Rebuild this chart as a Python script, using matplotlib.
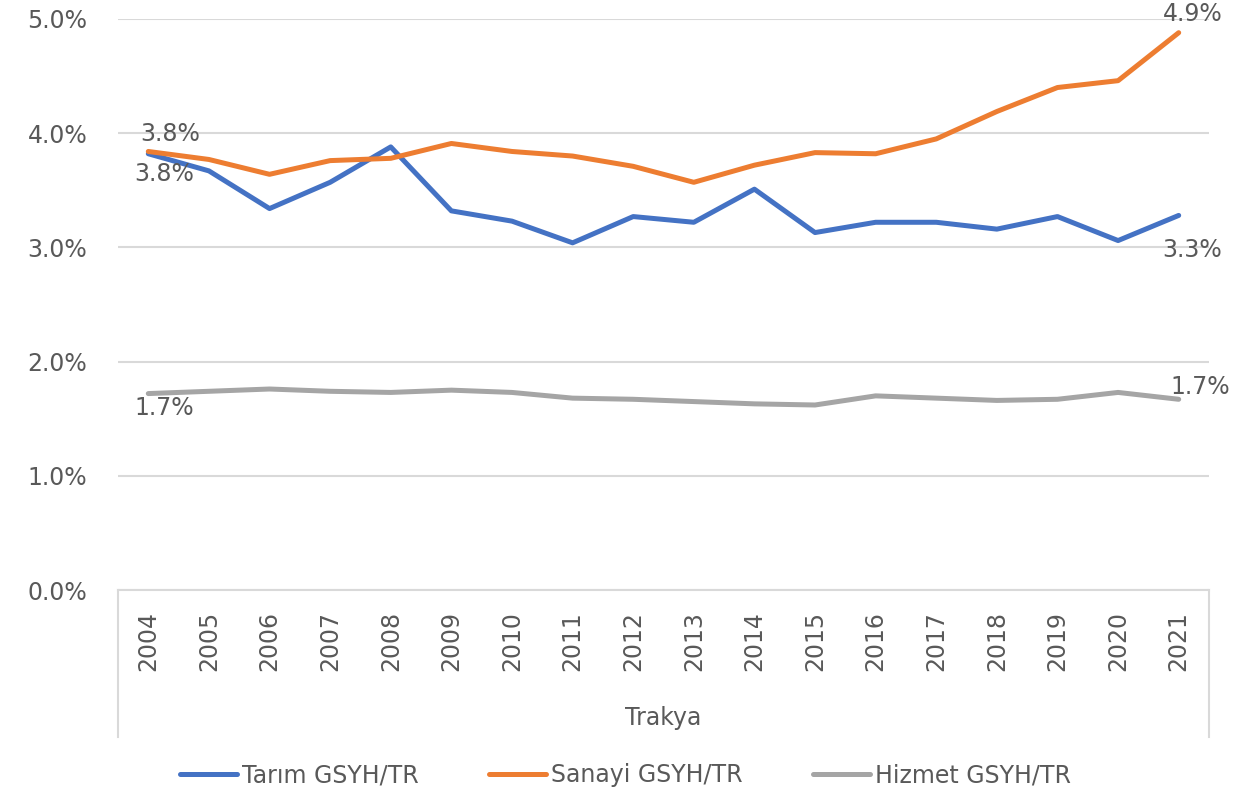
import numpy as np
import matplotlib.pyplot as plt

plt.rcParams['font.family'] = ['DejaVu Sans']

years = ['2004', '2005', '2006', '2007', '2008', '2009', '2010', '2011', '2012',
         '2013', '2014', '2015', '2016', '2017', '2018', '2019', '2020', '2021']
tarim = [3.82, 3.67, 3.34, 3.57, 3.88, 3.32, 3.23, 3.04, 3.27,
         3.22, 3.51, 3.13, 3.22, 3.22, 3.16, 3.27, 3.06, 3.28]
sanayi = [3.84, 3.77, 3.64, 3.76, 3.78, 3.91, 3.84, 3.80, 3.71,
          3.57, 3.72, 3.83, 3.82, 3.95, 4.19, 4.40, 4.46, 4.88]
hizmet = [1.72, 1.74, 1.76, 1.74, 1.73, 1.75, 1.73, 1.68, 1.67,
          1.65, 1.63, 1.62, 1.70, 1.68, 1.66, 1.67, 1.73, 1.67]
yticks = [0, 1, 2, 3, 4, 5]
group_label = 'Trakya'

txt = '#595959'
fs = 17
fig = plt.figure(figsize=(12.46, 7.96), dpi=100)
ax = fig.add_axes([118/1246, 1-590/796, (1209-118)/1246, (590-19)/796])

x = np.arange(len(years))
ax.plot(x, tarim, color='#4472C4', lw=3.6, solid_capstyle='round', label='Tarım GSYH/TR')
ax.plot(x, sanayi, color='#ED7D31', lw=3.6, solid_capstyle='round', label='Sanayi GSYH/TR')
ax.plot(x, hizmet, color='#A5A5A5', lw=3.6, solid_capstyle='round', label='Hizmet GSYH/TR')

ax.set_xlim(-0.5, len(years) - 0.5)
ax.set_ylim(0, 5)
ax.set_yticks(yticks)
ax.set_yticklabels(['%.1f%%' % v for v in yticks])
ax.set_xticks(x)
ax.set_xticklabels(years, rotation=90, va='top')
ax.tick_params(axis='both', length=0, labelsize=fs, colors=txt)
ax.tick_params(axis='y', pad=22)
ax.tick_params(axis='x', pad=15)
ax.grid(axis='y', color='#D9D9D9', lw=1.5)
ax.set_axisbelow(True)
for s in ['top', 'right', 'left']:
    ax.spines[s].set_visible(False)
ax.spines['bottom'].set_color('#D9D9D9')
ax.spines['bottom'].set_linewidth(1.5)

# category box edges
for xe in [-0.5, len(years) - 0.5]:
    ax.plot([xe, xe], [0, -1.29], color='#D9D9D9', lw=1.5, clip_on=False)
ax.text((len(years) - 1) / 2, -1.12, group_label, ha='center', va='center',
        fontsize=fs, color=txt)

# data labels
lab = dict(fontsize=fs, color=txt)
ax.annotate('%.1f%%' % sanayi[0], (0, sanayi[0]), xytext=(-6, 4), textcoords='offset points', ha='left', va='bottom', **lab)
ax.annotate('%.1f%%' % tarim[0], (0, tarim[0]), xytext=(-10, -6), textcoords='offset points', ha='left', va='top', **lab)
ax.annotate('%.1f%%' % hizmet[0], (0, hizmet[0]), xytext=(-10, -2), textcoords='offset points', ha='left', va='top', **lab)
n = len(years) - 1
ax.annotate('%.1f%%' % sanayi[n], (n, sanayi[n]), xytext=(10, 5), textcoords='offset points', ha='center', va='bottom', **lab)
ax.annotate('%.1f%%' % tarim[n], (n, tarim[n]), xytext=(10, -16), textcoords='offset points', ha='center', va='top', **lab)
ax.annotate('%.1f%%' % hizmet[n], (n, hizmet[n]), xytext=(-6, 0), textcoords='offset points', ha='left', va='bottom', **lab)

leg = fig.legend(loc='lower center', bbox_to_anchor=(0.502, -0.016), ncol=3, frameon=False,
                 fontsize=fs, handlelength=2.4, handletextpad=0.2, columnspacing=3.0)
for t in leg.get_texts():
    t.set_color(txt)

fig.savefig('out.png', dpi=100)
